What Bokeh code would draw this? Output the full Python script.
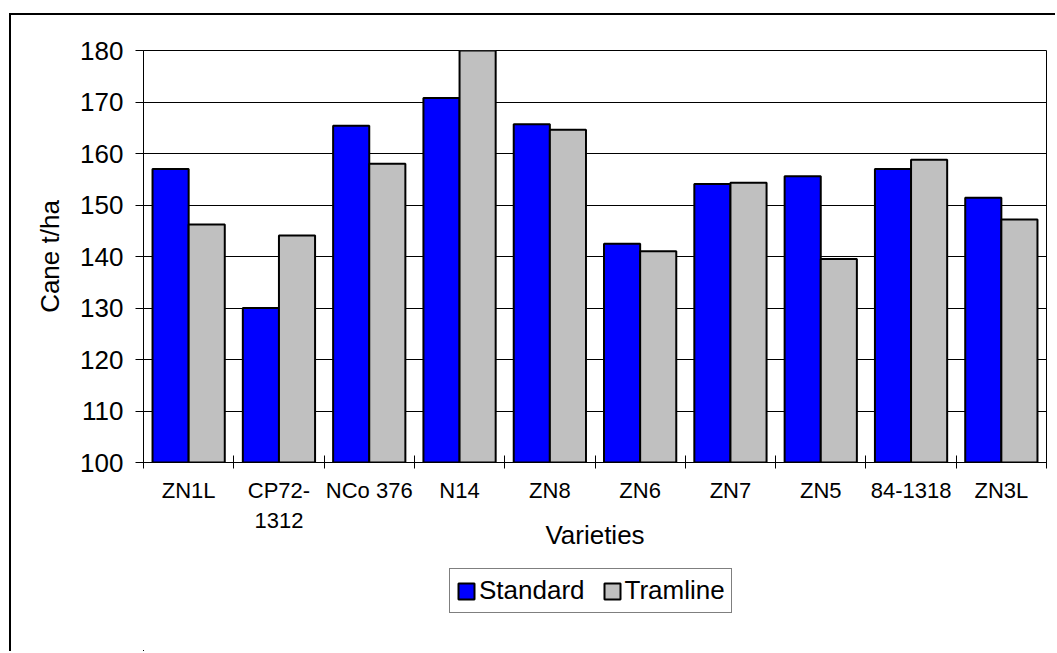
from bokeh.plotting import figure
from bokeh.layouts import column
from bokeh.models import ColumnDataSource, FixedTicker, Legend, LegendItem, Range1d
from bokeh.embed import file_html
from bokeh.resources import INLINE

# Cane yield (t/ha) per variety under two row layouts
varieties = ["ZN1L", "CP72-\n1312", "NCo 376", "N14", "ZN8", "ZN6", "ZN7", "ZN5", "84-1318", "ZN3L"]
standard = [157.0, 130.0, 165.4, 170.8, 165.7, 142.5, 154.1, 155.6, 157.0, 151.4]
tramline = [146.2, 144.1, 158.0, 186.0, 164.6, 141.0, 154.3, 139.5, 158.8, 147.2]
y_ticks = [100, 110, 120, 130, 140, 150, 160, 170, 180]
series_names = ["Standard", "Tramline"]

FONT = "Liberation Sans"
BLUE = "#0000FF"
GREY = "#C0C0C0"

centers = [i + 0.5 for i in range(len(varieties))]
src = ColumnDataSource(dict(
    x_std=[c - 0.2 for c in centers],
    x_tram=[c + 0.2 for c in centers],
    standard=standard,
    tramline=tramline,
))

bar_std = dict(fill_color=BLUE, line_color="black", line_width=2)
bar_tram = dict(fill_color=GREY, line_color="black", line_width=2)

# ---- main bar chart ----
p = figure(
    width=1046, height=545,
    x_range=Range1d(0, len(varieties)), y_range=Range1d(100, 180),
    output_backend="svg", toolbar_location=None,
    min_border_left=132, min_border_right=11, min_border_top=35, min_border_bottom=98,
)
p.styles = {
    "margin-left": "9px", "margin-top": "13px",
    "border-top": "2px solid #000000", "border-left": "2px solid #000000",
}
p.background_fill_color = "white"
p.border_fill_color = "white"
p.outline_line_color = "black"
p.outline_line_width = 1

p.vbar(x="x_std", top="standard", bottom=100, width=0.4, source=src, **bar_std)
p.vbar(x="x_tram", top="tramline", bottom=100, width=0.4, source=src, **bar_tram)

# y axis
p.yaxis.ticker = FixedTicker(ticks=y_ticks, minor_ticks=[])
p.yaxis.axis_label = "Cane t/ha"
p.yaxis.axis_label_text_font = FONT
p.yaxis.axis_label_text_font_size = "26px"
p.yaxis.axis_label_text_font_style = "normal"
p.yaxis.axis_label_text_color = "black"
p.yaxis.axis_label_standoff = 12
p.yaxis.major_label_text_font = FONT
p.yaxis.major_label_text_font_size = "26px"
p.yaxis.major_label_text_color = "black"
p.yaxis.major_label_standoff = 12
p.yaxis.major_tick_out = 8
p.yaxis.major_tick_in = 0
p.yaxis.axis_line_color = "black"
p.yaxis.major_tick_line_color = "black"

# x axis: labels at category centres, tick marks at category boundaries
p.xaxis.ticker = FixedTicker(ticks=centers, minor_ticks=list(range(len(varieties) + 1)))
p.xaxis.major_label_overrides = {c: v for c, v in zip(centers, varieties)}
p.xaxis.major_label_text_font = FONT
p.xaxis.major_label_text_font_size = "22px"
p.xaxis.major_label_text_color = "black"
p.xaxis.major_label_standoff = 9
p.xaxis.major_tick_line_color = None
p.xaxis.major_tick_out = 6
p.xaxis.major_tick_in = 0
p.xaxis.minor_tick_line_color = "black"
p.xaxis.minor_tick_in = 7
p.xaxis.minor_tick_out = 6
p.xaxis.axis_line_color = "black"
p.xaxis.axis_label = "Varieties"
p.xaxis.axis_label_text_font = FONT
p.xaxis.axis_label_text_font_size = "26px"
p.xaxis.axis_label_text_font_style = "normal"
p.xaxis.axis_label_text_color = "black"
p.xaxis.axis_label_standoff = -16

p.xgrid.grid_line_color = None
p.ygrid.ticker = FixedTicker(ticks=y_ticks[1:])
p.ygrid.grid_line_color = "black"
p.ygrid.grid_line_width = 1

# ---- legend strip under the chart ----
q = figure(
    width=1046, height=93,
    x_range=Range1d(1000, 2046), y_range=Range1d(1000, 1093),
    output_backend="svg", toolbar_location=None,
    min_border=0, min_border_left=0, min_border_right=0, min_border_top=0, min_border_bottom=0,
)
q.styles = {"margin-left": "9px", "border-left": "2px solid #000000"}
q.axis.visible = False
q.grid.visible = False
q.outline_line_color = None
q.background_fill_color = "white"
q.border_fill_color = "white"

# same series as the chart; they fall outside this strip's range, only their swatches show
sw_std = q.vbar(x="x_std", top="standard", bottom=100, width=0.4, source=src, **bar_std)
sw_tram = q.vbar(x="x_tram", top="tramline", bottom=100, width=0.4, source=src, **bar_tram)

legend = Legend(
    items=[LegendItem(label=series_names[0], renderers=[sw_std]),
           LegendItem(label=series_names[1], renderers=[sw_tram])],
    orientation="horizontal", location=(306, 38),
    label_text_font=FONT, label_text_font_size="26px", label_text_color="black",
    glyph_width=20, glyph_height=20, label_standoff=3, spacing=17,
    padding=6, margin=0,
    border_line_color="black", border_line_width=1,
    background_fill_color="white", background_fill_alpha=1,
)
q.add_layout(legend, "center")

layout = column(p, q, spacing=0)
open("out.html", "w").write(file_html(layout, INLINE))
